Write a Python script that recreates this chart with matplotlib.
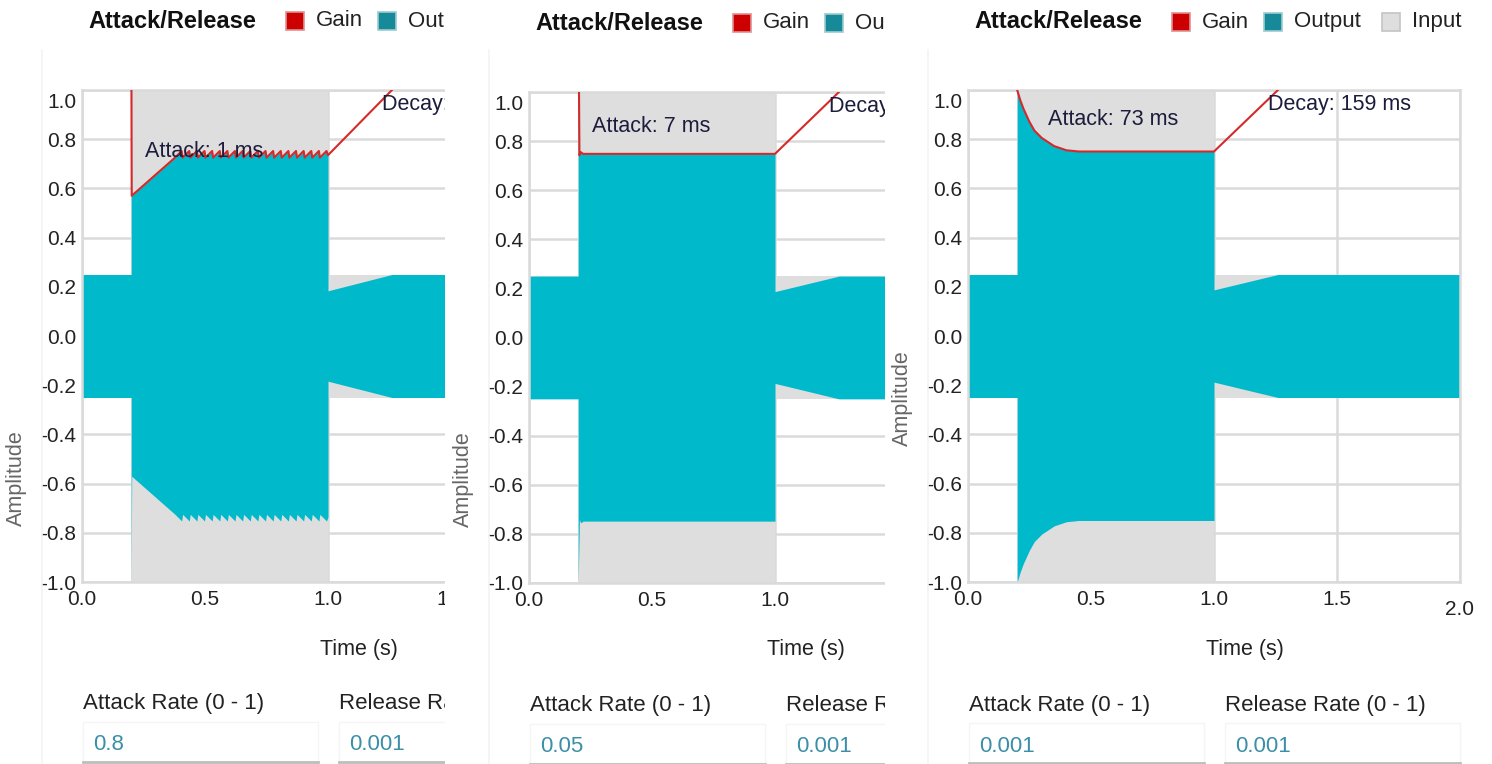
import matplotlib.pyplot as plt
from matplotlib.patches import Rectangle
from matplotlib.lines import Line2D
from matplotlib.transforms import ScaledTranslation
import numpy as np

plt.rcParams['font.family'] = ['Liberation Sans', 'DejaVu Sans']
plt.rcParams['axes.unicode_minus'] = False

# input sine burst, amplitude per segment (s)
seg_start = [0.0, 0.2, 1.0]
seg_end = [0.2, 1.0, 2.0]
input_amp = [0.25, 1.0, 0.25]

# gain curves (values above 1 are off the chart)
gain1_t = [0.0, 0.2, 0.202, 0.378,
           0.405, 0.409, 0.436, 0.440, 0.467, 0.471, 0.498, 0.502, 0.529, 0.533,
           0.560, 0.564, 0.591, 0.595, 0.622, 0.626, 0.653, 0.657, 0.684, 0.688,
           0.715, 0.719, 0.746, 0.750, 0.777, 0.781, 0.808, 0.812, 0.839, 0.843,
           0.870, 0.874, 0.901, 0.905, 0.932, 0.936, 0.963, 0.967, 0.994,
           1.0, 1.26, 2.0]
gain1 = [1.5, 1.5, 0.57, 0.725,
         0.752, 0.725, 0.752, 0.725, 0.752, 0.725, 0.752, 0.725, 0.752, 0.725,
         0.752, 0.725, 0.752, 0.725, 0.752, 0.725, 0.752, 0.725, 0.752, 0.725,
         0.752, 0.725, 0.752, 0.725, 0.752, 0.725, 0.752, 0.725, 0.752, 0.725,
         0.752, 0.725, 0.752, 0.725, 0.752, 0.725, 0.752, 0.725, 0.752,
         0.735, 1.0, 1.77]
gain2_t = [0.0, 0.2, 0.205, 0.21, 0.22, 1.0, 1.26, 2.0]
gain2 = [1.5, 1.5, 0.742, 0.755, 0.748, 0.748, 1.0, 1.77]
gain3_t = [0.0, 0.2, 0.2, 0.212, 0.225, 0.25, 0.27, 0.3, 0.35, 0.4, 0.45, 1.0, 1.26, 2.0]
gain3 = [1.5, 1.5, 1.0, 0.96, 0.925, 0.87, 0.835, 0.805, 0.772, 0.755, 0.75, 0.75, 1.0, 1.77]

attack_rate = ['0.8', '0.05', '0.001']
release_rate = ['0.001', '0.001', '0.001']
attack_ms = [1, 7, 73]
decay_ms = [159, 159, 159]

series = ['Gain', 'Output', 'Input']
series_col = ['#cc0000', '#168a99', '#dedede']
series_edge = ['#e09090', '#9ccbd1', '#c4c4c4']
y_ticks = [-1.0, -0.8, -0.6, -0.4, -0.2, 0.0, 0.2, 0.4, 0.6, 0.8, 1.0]
x_ticks = [0.0, 0.5, 1.0, 1.5, 2.0]

# layout (pixels of the 1492x764 canvas)
W, H = 1492, 764
panel_left = [82, 529, 968]
panel_top = [90, 92, 90]
panel_bottom = [582, 583, 582]
crop_right = [445, 885]
dy = [0, 2, 1]
attack_pos = [(0.256, 0.748), (0.256, 0.86), (0.325, 0.88)]
decay_pos = (1.22, 0.94)
amp_label_y = [0.211, 0.212, 0.374]


def output_env(t, g):
    t = np.array(t)
    g = np.minimum(np.array(g), 1.0)
    xs, ys = [], []
    for a, b, amp in zip(seg_start, seg_end, input_amp):
        m = (t >= a) & (t <= b)
        xs.append(t[m])
        ys.append(amp * g[m])
    return np.concatenate(xs), np.concatenate(ys)


in_x = np.ravel(list(zip(seg_start, seg_end)))
in_y = np.ravel(list(zip(input_amp, input_amp)))

fig = plt.figure(figsize=(W / 100, H / 100), dpi=100)
tf = fig.transFigure
grid_col = '#dadada'

for k, (gt, g) in enumerate([(gain1_t, gain1), (gain2_t, gain2), (gain3_t, gain3)]):
    L, T, B = panel_left[k], panel_top[k], panel_bottom[k]
    ax = fig.add_axes([L / W, 1 - B / H, 492 / W, (B - T) / H])
    ax.set_zorder(k + 1)

    ox, oy = output_env(gt, g)
    ax.fill_between(in_x, -in_y, in_y, color='#dedede', lw=0, zorder=1)
    ax.fill_between(ox, -oy, oy, color='#00bacb', lw=0, zorder=2)
    ax.plot(gt, g, color='#d42a2a', lw=1.5, zorder=3)

    ax.set_xlim(0, 2)
    ax.set_ylim(-1, 1)
    ax.set_xticks(x_ticks, [f'{v:.1f}' for v in x_ticks])
    ax.set_yticks(y_ticks, [f'{v:.1f}' for v in y_ticks])
    ax.tick_params(length=0, labelsize=15, labelcolor='#222222')
    ax.tick_params(axis='y', pad=4)
    ax.tick_params(axis='x', pad=6)
    lab = ax.get_xticklabels()[-1]
    lab.set_transform(lab.get_transform() + ScaledTranslation(0, -0.1, fig.dpi_scale_trans))
    lab = ax.get_yticklabels()[-1]
    lab.set_transform(lab.get_transform() + ScaledTranslation(0, -0.1, fig.dpi_scale_trans))
    ax.grid(True, color=grid_col, lw=1.8)
    ax.set_axisbelow(True)
    for s in ax.spines.values():
        s.set_color(grid_col)
        s.set_linewidth(1.8)

    ax.set_xlabel('Time (s)', fontsize=15.5, color='#222222')
    ax.xaxis.set_label_coords(0.562, -0.115)
    ax.set_ylabel('Amplitude', fontsize=15.5, color='#666666')
    ax.yaxis.set_label_coords(-0.112, amp_label_y[k])

    ax.text(attack_pos[k][0], attack_pos[k][1], f'Attack: {attack_ms[k]} ms',
            fontsize=15.5, color='#1c1c3c', va='center', zorder=4, clip_on=True)
    ax.text(decay_pos[0], decay_pos[1], f'Decay: {decay_ms[k]} ms',
            fontsize=15.5, color='#1c1c3c', va='center', zorder=4, clip_on=True)

    # widget frame line
    ax.add_artist(Line2D([(L - 40) / W] * 2, [0, 1 - 50 / H], transform=tf,
                         color='#f4f4f4', lw=1.2, clip_on=False))

    # legend
    ly = 1 - (21 + dy[k]) / H
    ax.text((L + 6) / W, ly, 'Attack/Release', transform=tf, fontsize=17,
            fontweight='bold', color='#111111', va='center')
    for name, col, ec, off in zip(series, series_col, series_edge, [204, 296, 414]):
        ax.add_artist(Rectangle(((L + off) / W, ly - 9 / H), 18 / W, 18 / H, transform=tf,
                                facecolor=col, edgecolor=ec, lw=1.2, clip_on=False))
        ax.text((L + off + 30) / W, ly, name, transform=tf, fontsize=16,
                color='#222222', va='center')

    # rate inputs below the chart
    for off, label, val in [(1, 'Attack Rate (0 - 1)', attack_rate[k]),
                            (257, 'Release Rate (0 - 1)', release_rate[k])]:
        ax.text((L + off) / W, 1 - (704 + dy[k]) / H, label, transform=tf,
                fontsize=16, color='#222222', va='center')
        ax.add_artist(Rectangle(((L + off) / W, 1 - (762 + dy[k]) / H), 235 / W, 40 / H,
                                transform=tf, facecolor='white', edgecolor='#f5f5f5',
                                lw=1, clip_on=False))
        ax.add_artist(Line2D([(L + off) / W, (L + off + 235) / W], [1 - (762 + dy[k]) / H] * 2,
                             transform=tf, color='#bdbdbd', lw=2, clip_on=False))
        ax.text((L + off + 10) / W, 1 - (745 + dy[k]) / H, val, transform=tf,
                fontsize=16, color='#3b8fa7', va='center')

# the first two screenshots are cropped on the right
for k, xr in enumerate(crop_right):
    fig.add_artist(Rectangle((xr / W, 0), 1, 1, transform=tf, facecolor='white',
                             edgecolor='none', zorder=k + 1.5))

fig.savefig('out.png', dpi=100, facecolor='white')
